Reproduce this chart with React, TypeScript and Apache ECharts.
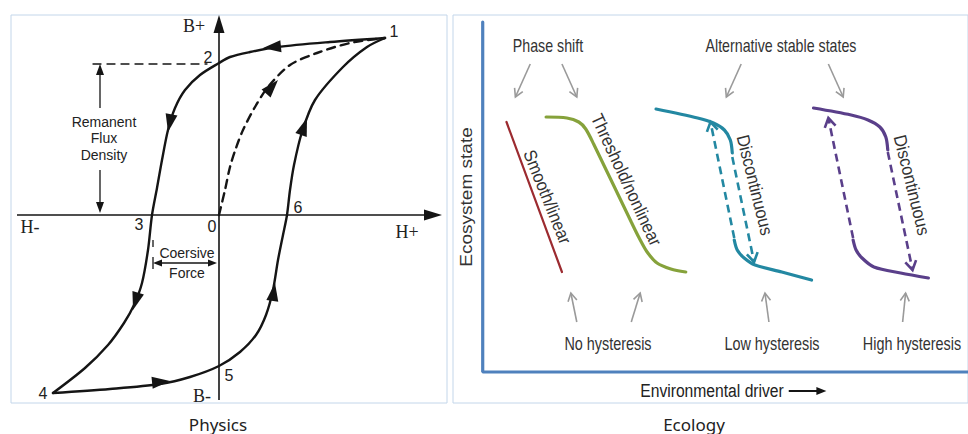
import React, { useEffect, useRef } from "react";
import * as echarts from "echarts";

// ---------- Physics panel data (H, B relative to origin) ----------
const descendingBranch = [
  [166, 177], [111, 173], [58, 168], [31, 163], [11, 158], [0, 152], [-19, 140], [-34, 125],
  [-44, 107], [-51, 85], [-57, 55], [-62, 27], [-67, 0], [-71, -35], [-77, -68], [-85, -90],
  [-95, -108], [-111, -130], [-134, -153], [-166, -178],
];
const ascendingBranch = [
  [-166, -178], [-109, -174], [-59, -169], [-29, -162], [0, -151], [21, -137], [37, -120],
  [47, -100], [54, -75], [59, -45], [64, -20], [68, 0], [71, 25], [75, 50], [83, 83],
  [96, 115], [124, 148], [148, 168], [166, 177],
];
const initialCurve = [
  [0, 0], [6, 25], [11, 48], [17, 67], [24, 85], [36, 108], [49, 128], [71, 150],
  [98, 162], [131, 172], [166, 177],
];
// [fromH, fromB, tipH, tipB]
const curveArrowHeads = [
  [64, 169, 44, 167], [-47, 103, -51, 83], [-80, -75, -86, -95], [-69, -168, -49, -166],
  [53, -88, 56, -68], [81, 77, 88, 97], [44, 118, 59, 135],
];
const axisArrows = [
  [0, -185, 0, 200],
  [-202, 0, 223, 0],
];
const remanentArrows = [
  [-119, 107, -119, 151],
  [-119, 45, -119, 2],
];
const remanentLevel = [[-126, 151], [-12, 151]];
const coerciveArrow = [[-66, -48, -2, -48]];
const coerciveTicks = [
  [-66, -25, -66, -32],
  [-66, -42, -66, -54],
];
const physicsLabels = ["B+", "B-", "H-", "H+", "1", "2", "3", "4", "5", "6", "0"];
const remanentText = ["Remanent", "Flux", "Density"];
const coerciveText = ["Coersive", "Force"];

// ---------- Ecology panel data (driver, state) ----------
const ecoAxes = [[0, 350], [0, 0], [490, 0]];
const smoothLinear = [[24, 250], [80, 100]];
const thresholdCurve = [
  [64, 255], [85, 254], [97, 250], [104, 243], [112, 228], [150, 150], [158, 134],
  [166, 120], [176, 109], [190, 103], [205, 100],
];
const lowUpper = [[175, 263], [217, 254], [233, 249], [244, 242], [250, 232], [252, 219]];
const lowLower = [[254, 132], [257, 122], [264, 114], [275, 107], [302, 100], [332, 92]];
const lowJumps = [[252, 215, 274, 110], [254, 134, 230, 250]];
const highUpper = [[334, 264], [372, 257], [389, 252], [401, 245], [407, 235], [409, 222]];
const highLower = [[374, 132], [377, 122], [383, 114], [395, 105], [422, 99], [450, 94]];
const highJumps = [[409, 220, 434, 102], [374, 134, 349, 254]];
const topPointers = [[48, 308, 33, 275], [80, 308, 95, 275], [261, 308, 246, 275], [349, 308, 364, 275]];
const bottomPointers = [[95, 50, 89, 79], [150, 50, 159, 79], [289, 50, 285, 79], [424, 50, 427, 79]];
const driverArrow = [[309, -19, 347, -19]];
const ecologyLabels = [
  "Phase shift", "Alternative stable states", "No hysteresis", "Low hysteresis",
  "High hysteresis", "Environmental driver", "Ecosystem state",
];
const curveLabels = ["Smooth/linear", "Threshold/nonlinear", "Discontinuous"];
const panelTitles = ["Physics", "Ecology"];

type ArrowOpts = {
  color: string;
  width?: number;
  dash?: number[] | null;
  head?: "filled" | "open" | "none";
  headLen?: number;
  headWid?: number;
  both?: boolean;
  line?: boolean;
};

function arrowSeries(idx: number, data: number[][], o: ArrowOpts) {
  const head = o.head || "filled";
  const L = o.headLen ?? 16;
  const W = o.headWid ?? 10;
  const drawLine = o.line !== false;
  return {
    type: "custom",
    xAxisIndex: idx,
    yAxisIndex: idx,
    silent: true,
    data,
    encode: { x: [0, 2], y: [1, 3] },
    renderItem: (_p: any, api: any) => {
      const a = api.coord([api.value(0), api.value(1)]);
      const b = api.coord([api.value(2), api.value(3)]);
      const dx = b[0] - a[0];
      const dy = b[1] - a[1];
      const len = Math.hypot(dx, dy) || 1;
      const ux = dx / len;
      const uy = dy / len;
      const nx = -uy;
      const ny = ux;
      const children: any[] = [];
      const mkHead = (tip: number[], sx: number, sy: number) => {
        const pts = [
          [tip[0] - sx * L + nx * W / 2, tip[1] - sy * L + ny * W / 2],
          [tip[0], tip[1]],
          [tip[0] - sx * L - nx * W / 2, tip[1] - sy * L - ny * W / 2],
        ];
        if (head === "filled") {
          children.push({ type: "polygon", shape: { points: pts }, style: { fill: o.color } });
        } else if (head === "open") {
          children.push({
            type: "polyline",
            shape: { points: pts },
            style: { stroke: o.color, lineWidth: o.width ?? 1.5, fill: "none", lineJoin: "miter" },
          });
        }
      };
      if (drawLine) {
        let s = [a[0], a[1]];
        let e = [b[0], b[1]];
        if (head === "filled") {
          e = [b[0] - ux * L * 0.6, b[1] - uy * L * 0.6];
          if (o.both) s = [a[0] + ux * L * 0.6, a[1] + uy * L * 0.6];
        }
        children.push({
          type: "line",
          shape: { x1: s[0], y1: s[1], x2: e[0], y2: e[1] },
          style: { stroke: o.color, lineWidth: o.width ?? 1.5, lineDash: o.dash || null },
        });
      }
      if (head !== "none") {
        mkHead(b, ux, uy);
        if (o.both) mkHead(a, -ux, -uy);
      }
      return { type: "group", children };
    },
  };
}

function lineSeries(idx: number, data: number[][], color: string, width: number, smooth: number | boolean, dash?: any) {
  return {
    type: "line",
    xAxisIndex: idx,
    yAxisIndex: idx,
    data,
    smooth,
    symbol: "none",
    showSymbol: false,
    silent: true,
    lineStyle: { color, width, type: dash || "solid", cap: "round" },
  };
}

const SANS = '"Liberation Sans", Arial, sans-serif';
const SERIF = '"Liberation Serif", "Times New Roman", serif';

function txt(text: string, x: number, y: number, size: number, family = SANS, rot = 0, color = "#222", sx = 1) {
  return {
    type: "text",
    x,
    y,
    rotation: rot,
    scaleX: sx,
    silent: true,
    style: {
      text,
      fill: color,
      font: `${size}px ${family}`,
      textAlign: "center",
      textVerticalAlign: "middle",
    },
  };
}

export default function App() {
  const ref = useRef<HTMLDivElement>(null);
  useEffect(() => {
    document.body.style.margin = "0";
    if (!ref.current) return;
    const chart = echarts.init(ref.current, undefined, { renderer: "svg" });
    const deg = Math.PI / 180;
    const black = "#151515";
    const teal = "#2388a2";
    const purple = "#5a3f8a";
    const gray = "#9a9a9a";
    const eco = "#333";
    const option: any = {
      animation: false,
      backgroundColor: "#ffffff",
      grid: [
        { left: 11, top: 15, width: 436, height: 388, show: true, borderColor: "#c3d6ea", borderWidth: 1, backgroundColor: "transparent" },
        { left: 453, top: 15, width: 520, height: 388, show: true, borderColor: "#c3d6ea", borderWidth: 1, backgroundColor: "transparent" },
      ],
      xAxis: [
        { type: "value", gridIndex: 0, min: -208, max: 228, show: false },
        { type: "value", gridIndex: 1, min: -30, max: 490, show: false },
      ],
      yAxis: [
        { type: "value", gridIndex: 0, min: -188, max: 200, show: false },
        { type: "value", gridIndex: 1, min: -31, max: 357, show: false },
      ],
      series: [
        // physics
        arrowSeries(0, axisArrows, { color: black, width: 1.6, head: "filled", headLen: 18, headWid: 11 }),
        lineSeries(0, remanentLevel, black, 1.3, false, [8, 6]),
        lineSeries(0, descendingBranch, black, 2.4, 0.3),
        lineSeries(0, ascendingBranch, black, 2.4, 0.3),
        lineSeries(0, initialCurve, black, 2.4, 0.3, [8, 6]),
        arrowSeries(0, curveArrowHeads, { color: black, head: "filled", headLen: 18, headWid: 12, line: false }),
        arrowSeries(0, remanentArrows, { color: black, width: 1.3, head: "filled", headLen: 11, headWid: 8 }),
        arrowSeries(0, coerciveArrow, { color: black, width: 1.3, head: "filled", headLen: 9, headWid: 7, both: true }),
        arrowSeries(0, coerciveTicks, { color: black, width: 1.3, head: "none" }),
        // ecology
        lineSeries(1, ecoAxes, "#4f81bd", 3.2, false),
        lineSeries(1, smoothLinear, "#9c2b30", 2.2, false),
        lineSeries(1, thresholdCurve, "#86a23b", 3.2, 0.3),
        lineSeries(1, lowUpper, teal, 3.2, 0.3),
        lineSeries(1, lowLower, teal, 3.2, 0.3),
        lineSeries(1, highUpper, purple, 3.2, 0.3),
        lineSeries(1, highLower, purple, 3.2, 0.3),
        arrowSeries(1, lowJumps, { color: teal, width: 2.6, dash: [8, 5], head: "open", headLen: 9, headWid: 11 }),
        arrowSeries(1, highJumps, { color: purple, width: 2.6, dash: [8, 5], head: "open", headLen: 9, headWid: 11 }),
        arrowSeries(1, topPointers, { color: gray, width: 1.6, head: "open", headLen: 8, headWid: 9 }),
        arrowSeries(1, bottomPointers, { color: gray, width: 1.6, head: "open", headLen: 8, headWid: 9 }),
        arrowSeries(1, driverArrow, { color: black, width: 1.8, head: "filled", headLen: 10, headWid: 8 }),
      ],
      graphic: [
        txt(physicsLabels[0], 194, 26, 18, SERIF),
        txt(physicsLabels[1], 202, 396, 18, SERIF),
        txt(physicsLabels[2], 30, 227, 18, SERIF),
        txt(physicsLabels[3], 407, 232, 18, SERIF),
        txt(physicsLabels[4], 394, 31, 16),
        txt(physicsLabels[5], 208, 57, 16),
        txt(physicsLabels[6], 139, 224, 16),
        txt(physicsLabels[7], 43, 393, 16),
        txt(physicsLabels[8], 229, 375, 16),
        txt(physicsLabels[9], 298, 207, 16),
        txt(physicsLabels[10], 212, 226, 16),
        txt(remanentText[0], 104, 122, 14),
        txt(remanentText[1], 104, 138, 14),
        txt(remanentText[2], 104, 155, 14),
        txt(coerciveText[0], 187, 253, 14),
        txt(coerciveText[1], 187, 273, 14),
        txt(panelTitles[0], 218, 424, 17, '"Noto Sans", sans-serif'),
        txt(panelTitles[1], 694, 424, 17, '"Noto Sans", sans-serif'),
        txt(ecologyLabels[0], 548, 45, 18, SANS, 0, eco, 0.79),
        txt(ecologyLabels[1], 781, 45, 18, SANS, 0, eco, 0.79),
        txt(ecologyLabels[2], 608, 343, 18, SANS, 0, eco, 0.8),
        txt(ecologyLabels[3], 772, 343, 18, SANS, 0, eco, 0.8),
        txt(ecologyLabels[4], 912, 343, 18, SANS, 0, eco, 0.8),
        txt(ecologyLabels[5], 712, 391, 18, SANS, 0, "#222", 0.87),
        txt(ecologyLabels[6], 467, 197, 16, SANS, 90 * deg, eco, 1.19),
        txt(curveLabels[0], 547, 197, 18, SANS, -68 * deg, eco, 0.9),
        txt(curveLabels[1], 626, 180, 18, SANS, -65 * deg, eco, 0.9),
        txt(curveLabels[2], 755, 185, 18, SANS, -76 * deg, eco, 0.91),
        txt(curveLabels[2], 912, 185, 18, SANS, -76 * deg, eco, 0.91),
      ],
    };
    chart.setOption(option);
    return () => chart.dispose();
  }, []);
  return (
    <div
      ref={ref}
      style={{ position: "absolute", left: 0, top: 0, width: 968, height: 434, background: "#fff" }}
    />
  );
}
